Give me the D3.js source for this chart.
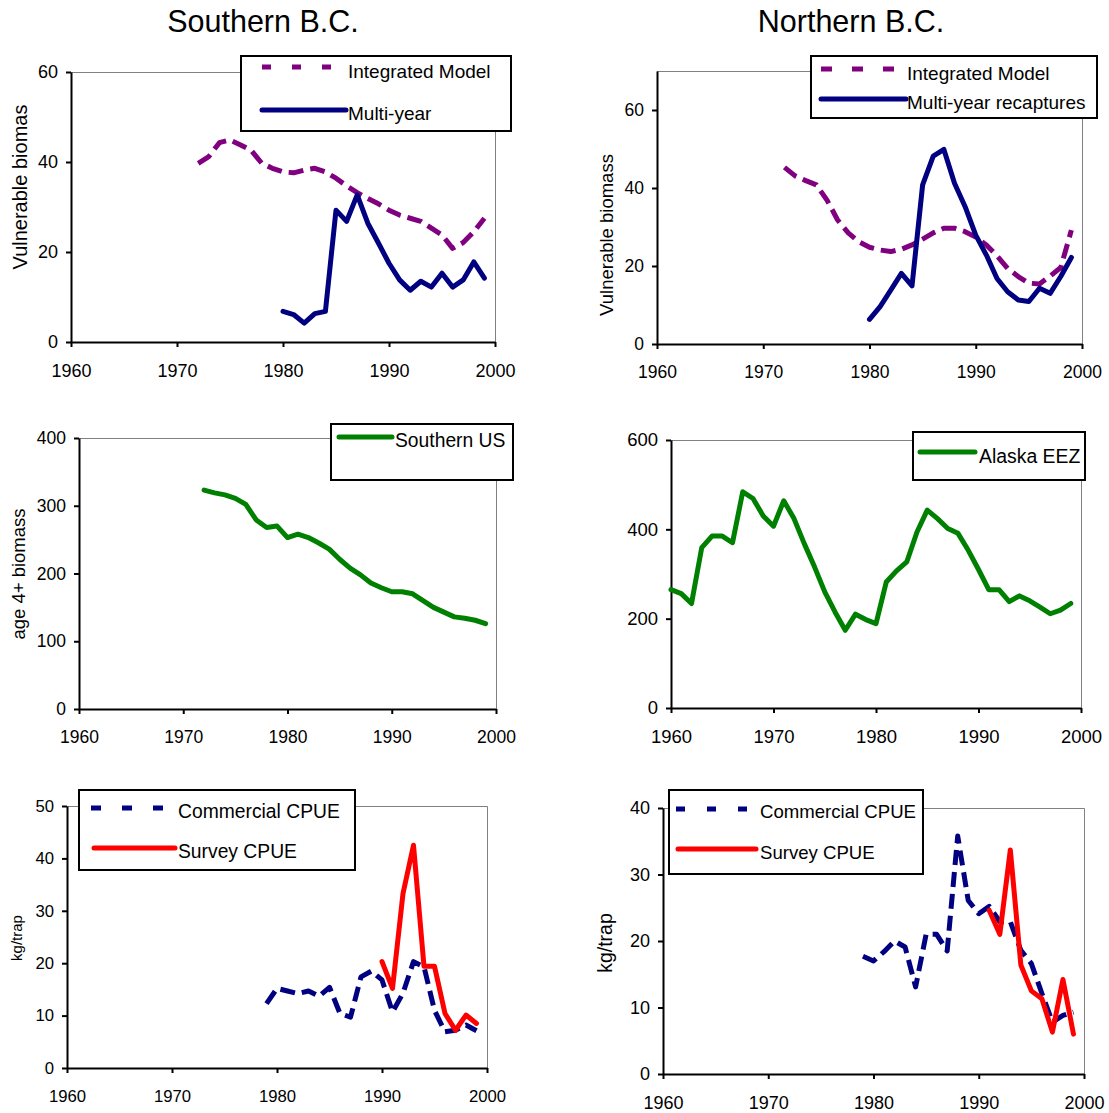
<!DOCTYPE html>
<html>
<head>
<meta charset="utf-8">
<script src="https://cdn.jsdelivr.net/npm/d3@7"></script>
<style>
  body { margin: 0; background: #fff; }
  svg { display: block; }
  text { font-family: "Liberation Sans", Arial, Helvetica, sans-serif; fill: #000; }
</style>
</head>
<body>
<svg id="chart" width="1109" height="1113"></svg>
<script>
// ---- data ----
const yearTicks = [1960, 1970, 1980, 1990, 2000];

const years1960 = [1960, 1961, 1962, 1963, 1964, 1965, 1966, 1967, 1968, 1969,
                   1970, 1971, 1972, 1973, 1974, 1975, 1976, 1977, 1978, 1979,
                   1980, 1981, 1982, 1983, 1984, 1985, 1986, 1987, 1988, 1989,
                   1990, 1991, 1992, 1993, 1994, 1995, 1996, 1997, 1998, 1999];
const years1972 = [1972, 1973, 1974, 1975, 1976, 1977, 1978, 1979,
                   1980, 1981, 1982, 1983, 1984, 1985, 1986, 1987, 1988, 1989,
                   1990, 1991, 1992, 1993, 1994, 1995, 1996, 1997, 1998, 1999];
const years1979 = [1979, 1980, 1981, 1982, 1983, 1984, 1985, 1986, 1987, 1988, 1989,
                   1990, 1991, 1992, 1993, 1994, 1995, 1996, 1997, 1998, 1999];
const years1980 = [1980, 1981, 1982, 1983, 1984, 1985, 1986, 1987, 1988, 1989,
                   1990, 1991, 1992, 1993, 1994, 1995, 1996, 1997, 1998, 1999];
const years1990 = [1990, 1991, 1992, 1993, 1994, 1995, 1996, 1997, 1998, 1999];
const years1991 = [1991, 1992, 1993, 1994, 1995, 1996, 1997, 1998, 1999];

// Southern B.C. vulnerable biomass
const southIntegrated = [39.7, 41.2, 44.3, 44.9, 43.8, 42.6, 39.7, 38.6, 37.8, 37.6,
                         38.2, 38.6, 37.8, 36.4, 34.7, 33.2, 31.9, 30.7, 29.3, 28.2,
                         27.5, 26.8, 25.3, 23.8, 20.8, 22.1, 24.5, 27.5];
const southMultiYear = [6.8, 6.1, 4.2, 6.3, 6.8, 29.3, 26.8, 32.7, 26.4, 22.0,
                        17.5, 13.8, 11.5, 13.5, 12.2, 15.3, 12.2, 13.8, 17.8, 14.2];

// Northern B.C. vulnerable biomass
const northIntegrated = [45.3, 43.1, 41.9, 40.8, 36.9, 31.8, 28.5, 26.2, 24.8, 24.1,
                         23.7, 24.3, 25.4, 26.9, 28.5, 29.7, 29.7, 28.8, 27.4, 25.4,
                         22.6, 19.4, 17.3, 15.6, 15.4, 17.4, 19.6, 29.2];
const northMultiYear = [6.3, 9.6, 13.8, 18.1, 14.9, 40.8, 48.2, 49.9, 41.2, 35.2,
                        27.9, 22.8, 16.8, 13.4, 11.3, 10.9, 14.3, 13.0, 17.3, 22.2];

// age 4+ biomass
const southernUS = [323, 319, 316, 311, 302, 279, 268, 270, 253, 258,
                    253, 245, 236, 221, 208, 198, 186, 179, 173, 173,
                    170, 160, 150, 143, 136, 134, 131, 126];
const alaskaEEZ = [265, 256, 234, 359, 385, 385, 370, 484, 469, 430,
                   407, 464, 424, 368, 316, 260, 215, 174, 210, 198,
                   189, 282, 307, 327, 394, 443, 424, 402, 391, 353,
                   310, 265, 265, 238, 251, 240, 226, 211, 219, 234];

// CPUE (kg/trap)
const southCommercial = [12.3, 15.2, 14.7, 14.2, 14.7, 13.7, 15.4, 10.4, 9.7, 17.4, 18.5,
                         16.8, 10.7, 14.3, 20.3, 19.3, 11.0, 6.9, 7.2, 8.2, 7.1];
const southSurvey = [20.3, 15.2, 33.3, 42.5, 19.4, 19.4, 10.4, 7.2, 10.1, 8.5];
const northCommercial = [17.7, 17.0, 18.4, 20.0, 19.1, 13.1, 21.0, 21.0, 18.5, 35.8, 26.1,
                         24.1, 25.2, 22.9, 22.9, 18.6, 16.6, 12.1, 7.8, 8.8, 9.3];
const northSurvey = [24.6, 21.0, 33.7, 16.4, 12.5, 11.3, 6.3, 14.2, 6.0];

const columnTitles = ["Southern B.C.", "Northern B.C."];

// ---- styles ----
const PURPLE = "#800080", NAVY = "#000080", GREEN = "#008000", RED = "#ff0000";
const FRAME = "#808080";

const panels = [
  {
    x0: 71, x1: 495, yTop: 72, yBot: 342, yMax: 60, yTicks: [0, 20, 40, 60], tickFont: 18,
    yLabel: "Vulnerable biomas", yLabelX: 20, yLabelY: 187, yLabelFont: 20,
    series: [
      { years: years1972, values: southIntegrated, color: PURPLE, dash: "15,7" },
      { years: years1980, values: southMultiYear, color: NAVY }
    ],
    legend: { x: 241, y: 56, w: 270, h: 75, font: 19, textX: 348,
      items: [
        { label: "Integrated Model", color: PURPLE, dash: "9,21", lx0: 262, lx1: 334, ly: 67, ty: 78 },
        { label: "Multi-year", color: NAVY, lx0: 262, lx1: 346, ly: 110, ty: 120 }
      ] }
  },
  {
    x0: 657, x1: 1082, yTop: 71, yBot: 344, yMax: 70, yTicks: [0, 20, 40, 60], tickFont: 17.5,
    yLabel: "Vulnerable biomass", yLabelX: 607, yLabelY: 235, yLabelFont: 18.5,
    series: [
      { years: years1972, values: northIntegrated, color: PURPLE, dash: "15,7" },
      { years: years1980, values: northMultiYear, color: NAVY }
    ],
    legend: { x: 811, y: 56, w: 286, h: 62, font: 19, textX: 907,
      items: [
        { label: "Integrated Model", color: PURPLE, dash: "11,20", lx0: 821, lx1: 894, ly: 69, ty: 80 },
        { label: "Multi-year recaptures", color: NAVY, lx0: 821, lx1: 906, ly: 99, ty: 109 }
      ] }
  },
  {
    x0: 79, x1: 496, yTop: 438, yBot: 709, yMax: 400, yTicks: [0, 100, 200, 300, 400], tickFont: 17.5,
    yLabel: "age 4+ biomass", yLabelX: 19, yLabelY: 574, yLabelFont: 18.5,
    series: [
      { years: years1972, values: southernUS, color: GREEN }
    ],
    legend: { x: 331, y: 424, w: 182, h: 56, font: 19.3, textX: 395,
      items: [
        { label: "Southern US", color: GREEN, lx0: 339, lx1: 392, ly: 437, ty: 447 }
      ] }
  },
  {
    x0: 671, x1: 1081, yTop: 440, yBot: 708, yMax: 600, yTicks: [0, 200, 400, 600], tickFont: 18.5,
    yLabel: "age 4+ biomass", yLabelX: 607, yLabelY: 640, yLabelFont: 20, yLabelStart: true, yLabelClip: 504,
    series: [
      { years: years1960, values: alaskaEEZ, color: GREEN }
    ],
    legend: { x: 913, y: 432, w: 172, h: 48, font: 19.4, textX: 979,
      items: [
        { label: "Alaska EEZ", color: GREEN, lx0: 920, lx1: 975, ly: 452, ty: 463 }
      ] }
  },
  {
    x0: 67, x1: 487, yTop: 806, yBot: 1068, yMax: 50, yTicks: [0, 10, 20, 30, 40, 50], tickFont: 16.7,
    yLabel: "kg/trap", yLabelX: 17, yLabelY: 938, yLabelFont: 15,
    series: [
      { years: years1979, values: southCommercial, color: NAVY, dash: "15,7" },
      { years: years1990, values: southSurvey, color: RED }
    ],
    legend: { x: 79, y: 790, w: 276, h: 80, font: 19.3, textX: 178,
      items: [
        { label: "Commercial CPUE", color: NAVY, dash: "10,21", lx0: 91, lx1: 163, ly: 808, ty: 818 },
        { label: "Survey CPUE", color: RED, lx0: 94, lx1: 175, ly: 848, ty: 858 }
      ] }
  },
  {
    x0: 663, x1: 1084, yTop: 808, yBot: 1074, yMax: 40, yTicks: [0, 10, 20, 30, 40], tickFont: 18,
    yLabel: "kg/trap", yLabelX: 605, yLabelY: 943, yLabelFont: 19.5,
    series: [
      { years: years1979, values: northCommercial, color: NAVY, dash: "15,7" },
      { years: years1991, values: northSurvey, color: RED }
    ],
    legend: { x: 669, y: 790, w: 254, h: 84, font: 18.6, textX: 760,
      items: [
        { label: "Commercial CPUE", color: NAVY, dash: "9,22", lx0: 676, lx1: 747, ly: 809, ty: 818 },
        { label: "Survey CPUE", color: RED, lx0: 678, lx1: 756, ly: 849, ty: 859 }
      ] }
  }
];

const svg = d3.select("#chart");
svg.append("rect").attr("width", 1109).attr("height", 1113).attr("fill", "#fff");

// column titles
svg.append("text").attr("x", 263).attr("y", 32).attr("text-anchor", "middle")
  .attr("font-size", 30.5).text(columnTitles[0]);
svg.append("text").attr("x", 851).attr("y", 32).attr("text-anchor", "middle")
  .attr("font-size", 30.5).text(columnTitles[1]);

panels.forEach((p, idx) => {
  const g = svg.append("g");
  const x = d3.scaleLinear().domain([1960, 2000]).range([p.x0, p.x1]);
  const y = d3.scaleLinear().domain([0, p.yMax]).range([p.yBot, p.yTop]);

  // thin grey frame on top and right
  g.append("path")
    .attr("d", `M${p.x0},${p.yTop + 0.5}H${p.x1 + 0.5}V${p.yBot}`)
    .attr("fill", "none").attr("stroke", FRAME).attr("stroke-width", 1);

  // y axis
  const ya = g.append("g").attr("transform", `translate(${p.x0},0)`)
    .call(d3.axisLeft(y).tickValues(p.yTicks).tickSize(5).tickSizeOuter(0).tickPadding(8));
  // x axis
  const xa = g.append("g").attr("transform", `translate(0,${p.yBot})`)
    .call(d3.axisBottom(x).tickValues(yearTicks).tickFormat(d3.format("d"))
      .tickSize(5).tickSizeOuter(0).tickPadding(17));

  [ya, xa].forEach(a => {
    a.select(".domain").attr("stroke", "#000").attr("stroke-width", 2);
    a.selectAll(".tick line").attr("stroke", "#000").attr("stroke-width", 2);
    a.selectAll(".tick text").attr("font-size", p.tickFont)
      .attr("font-family", '"Liberation Sans", Arial, sans-serif').attr("fill", "#000");
  });

  // y axis title
  const lbl = g.append("text")
    .attr("transform", `translate(${p.yLabelX},${p.yLabelY}) rotate(-90)`)
    .attr("text-anchor", p.yLabelStart ? "start" : "middle")
    .attr("dy", "0.35em")
    .attr("font-size", p.yLabelFont)
    .text(p.yLabel);
  if (p.yLabelClip) {
    const id = "ylabclip" + idx;
    svg.append("clipPath").attr("id", id).append("rect")
      .attr("x", p.yLabelX - 20).attr("y", p.yLabelClip)
      .attr("width", 40).attr("height", p.yLabelY - p.yLabelClip + 10);
    lbl.attr("clip-path", `url(#${id})`);
  }

  // series
  p.series.forEach(s => {
    const pts = s.years.map((yr, i) => [yr, s.values[i]]);
    const line = d3.line().x(d => x(d[0])).y(d => y(d[1]));
    g.append("path")
      .attr("d", line(pts))
      .attr("fill", "none")
      .attr("stroke", s.color)
      .attr("stroke-width", 5)
      .attr("stroke-linejoin", "round")
      .attr("stroke-linecap", s.dash ? "butt" : "round")
      .attr("stroke-dasharray", s.dash || null);
  });

  // legend
  const L = p.legend;
  const lg = g.append("g");
  lg.append("rect").attr("x", L.x).attr("y", L.y).attr("width", L.w).attr("height", L.h)
    .attr("fill", "#fff").attr("stroke", "#000").attr("stroke-width", 2);
  L.items.forEach(it => {
    lg.append("line")
      .attr("x1", it.lx0).attr("x2", it.lx1).attr("y1", it.ly).attr("y2", it.ly)
      .attr("stroke", it.color).attr("stroke-width", 5)
      .attr("stroke-linecap", it.dash ? "butt" : "round")
      .attr("stroke-dasharray", it.dash || null);
    lg.append("text").attr("x", L.textX).attr("y", it.ty)
      .attr("font-size", L.font).text(it.label);
  });
});
</script>
</body>
</html>
